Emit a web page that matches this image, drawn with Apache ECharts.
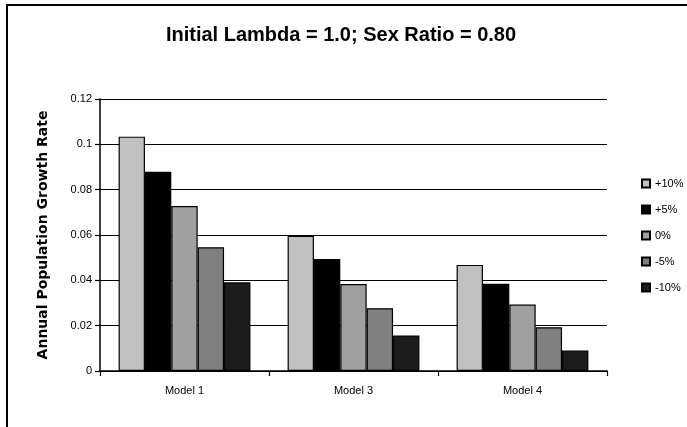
<!DOCTYPE html>
<html>
<head>
<meta charset="utf-8">
<script src="https://cdn.jsdelivr.net/npm/echarts@6/dist/echarts.min.js"></script>
<style>html,body{margin:0;padding:0;background:#fff;}#c{width:687px;height:427px;}</style>
</head>
<body>
<div id="c"></div>
<script>
var categories = ['Model 1', 'Model 3', 'Model 4'];
var seriesNames = ['+10%', '+5%', '0%', '-5%', '-10%'];
var plus10 = [0.1034, 0.0596, 0.0468];
var plus5 = [0.0879, 0.0494, 0.0385];
var zero = [0.0728, 0.0384, 0.0293];
var minus5 = [0.0546, 0.0277, 0.0193];
var minus10 = [0.0391, 0.0157, 0.0090];
var yTicks = [0, 0.02, 0.04, 0.06, 0.08, 0.1, 0.12];
var colors = ['#c0c0c0', '#000000', '#a0a0a0', '#808080', '#1c1c1c'];

var values = [plus10, plus5, zero, minus5, minus10];
var chart = echarts.init(document.getElementById('c'));
var series = seriesNames.map(function (n, i) {
  return {
    name: n, type: 'bar', data: values[i],
    barGap: '0%', barCategoryGap: '22%',
    itemStyle: { color: colors[i], borderColor: '#000', borderWidth: 1.2 }
  };
});
chart.setOption({
  animation: false,
  backgroundColor: '#fff',
  grid: { left: 100, top: 99, right: 80, bottom: 56 },
  graphic: [
    { type: 'rect', shape: { x: 7, y: 5, width: 720, height: 450 },
      style: { fill: 'none', stroke: '#000', lineWidth: 2 }, z: 0 },
    { type: 'text', x: 341, y: 35, style: { text: 'Initial Lambda = 1.0; Sex Ratio = 0.80',
      font: 'bold 20px "Liberation Sans", Arial, sans-serif', fill: '#000',
      textAlign: 'center', textVerticalAlign: 'middle' } },
    { type: 'text', x: 43, y: 235, rotation: Math.PI / 2, style: { text: 'Annual Population Growth Rate',
      font: 'bold 14px "DejaVu Sans", sans-serif', fill: '#000',
      textAlign: 'center', textVerticalAlign: 'middle' } }
  ],
  legend: {
    orient: 'vertical', left: 636, top: 173,
    itemWidth: 8, itemHeight: 8, itemGap: 15, icon: 'rect',
    textStyle: { fontSize: 11, color: '#000', fontFamily: '"Liberation Sans", Arial, sans-serif' },
    data: seriesNames
  },
  xAxis: {
    type: 'category', data: categories,
    axisLine: { lineStyle: { color: '#000', width: 1.5 } },
    axisTick: { show: true, length: 5, lineStyle: { color: '#000', width: 1.2 } },
    axisLabel: { margin: 14, fontSize: 11, color: '#000', fontFamily: '"Liberation Sans", Arial, sans-serif' }
  },
  yAxis: {
    type: 'value', min: 0, max: 0.12, interval: 0.02,
    axisLine: { show: true, lineStyle: { color: '#000', width: 1.5 } },
    axisTick: { show: true, length: 5, lineStyle: { color: '#000', width: 1.2 } },
    splitLine: { lineStyle: { color: '#000', width: 1.2 } },
    axisLabel: { margin: 8, fontSize: 11, color: '#000', fontFamily: '"Liberation Sans", Arial, sans-serif',
      formatter: function (v) { return String(+v.toFixed(2)); } }
  },
  series: series
});
</script>
</body>
</html>
